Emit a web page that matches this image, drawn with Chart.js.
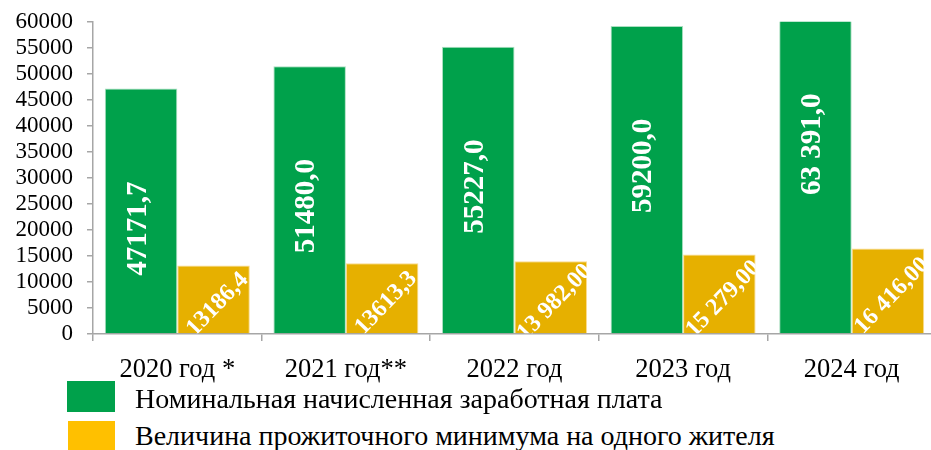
<!DOCTYPE html>
<html>
<head>
<meta charset="utf-8">
<script src="https://cdn.jsdelivr.net/npm/chart.js@4.4.1/dist/chart.umd.min.js"></script>
<style>
  html, body { margin: 0; padding: 0; background: #fff; overflow: hidden; width: 931px; height: 450px; }
  #wrap { position: absolute; left: 0; top: -6px; width: 936px; height: 400px; }
  .leg { position: absolute; left: 0; font-family: "Liberation Serif", "Times New Roman", serif; font-size: 28px; color: #000; white-space: nowrap; line-height: 1; }
  .sw { position: absolute; }
</style>
</head>
<body>
<div id="wrap"><canvas id="c"></canvas></div>
<div class="sw" id="sw0" style="left:67px;top:381px;width:48px;height:31px;"></div>
<div class="leg" id="lg0" style="left:135px;top:385px;"></div>
<div class="sw" id="sw1" style="left:68px;top:421px;width:47px;height:31px;"></div>
<div class="leg" id="lg1" style="left:135px;top:422px;"></div>
<script>
const categories = ["2020 год *", "2021 год**", "2022 год", "2023 год", "2024 год"];
const wageValues = [47171.7, 51480.0, 55227.0, 59200.0, 63391.0];
const wageLabels = ["47171,7", "51480,0", "55227,0", "59200,0", "63 391,0"];
const minimumValues = [13186.4, 13613.3, 13982.0, 15279.0, 16416.0];
const minimumLabels = ["13186,4", "13613,3", "13 982,00", "15 279,00", "16 416,00"];
const seriesNames = ["Номинальная начисленная заработная плата", "Величина прожиточного минимума на одного жителя"];
const yTicks = [0, 5000, 10000, 15000, 20000, 25000, 30000, 35000, 40000, 45000, 50000, 55000, 60000];

const GREEN = "#00A14B";
const YELLOW = "#E6B000";
const LEG_YELLOW = "#FFC000";
const FONT = '"Liberation Serif", "Times New Roman", serif';

document.getElementById("sw0").style.background = GREEN;
document.getElementById("sw1").style.background = LEG_YELLOW;
document.getElementById("lg0").textContent = seriesNames[0];
document.getElementById("lg1").textContent = seriesNames[1];

const labelPlugin = {
  id: "barLabels",
  afterDatasetsDraw(chart) {
    const ctx = chart.ctx;
    const area = chart.chartArea;
    const m0 = chart.getDatasetMeta(0);
    m0.data.forEach((bar, i) => {
      ctx.save();
      ctx.beginPath();
      ctx.rect(area.left, area.top, area.right - area.left, area.bottom - area.top);
      ctx.clip();
      ctx.translate(bar.x - 3, bar.y + 140);
      ctx.rotate(-Math.PI / 2);
      ctx.font = "bold 29px " + FONT;
      ctx.fillStyle = "#fff";
      ctx.textAlign = "center";
      ctx.textBaseline = "middle";
      ctx.fillText(wageLabels[i], 0, 0);
      ctx.restore();
    });
    const m1 = chart.getDatasetMeta(1);
    m1.data.forEach((bar, i) => {
      const w = bar.width;
      ctx.save();
      ctx.beginPath();
      ctx.rect(bar.x - w / 2, bar.y, w, bar.base - bar.y);
      ctx.clip();
      ctx.translate(bar.x + 4, (bar.y + bar.base) / 2 + 5);
      ctx.rotate(-46 * Math.PI / 180);
      ctx.font = "bold 24px " + FONT;
      ctx.fillStyle = "#fff";
      ctx.textAlign = "center";
      ctx.textBaseline = "middle";
      ctx.fillText(minimumLabels[i], 0, 0);
      ctx.restore();
    });
  }
};

new Chart(document.getElementById("c"), {
  type: "bar",
  data: {
    labels: categories,
    datasets: [
      { label: seriesNames[0], data: wageValues, backgroundColor: GREEN, borderColor: "rgba(160,220,185,0.9)", borderWidth: {top:1,left:1,right:1,bottom:0}, categoryPercentage: 0.86, barPercentage: 1.0 },
      { label: seriesNames[1], data: minimumValues, backgroundColor: YELLOW, borderColor: "rgba(250,215,130,0.9)", borderWidth: {top:1,left:1,right:1,bottom:0}, categoryPercentage: 0.86, barPercentage: 1.0 }
    ]
  },
  options: {
    responsive: true,
    maintainAspectRatio: false,
    animation: false,
    events: [],
    layout: { padding: { top: 16, right: 0, left: 0, bottom: 0 } },
    plugins: { legend: { display: false }, tooltip: { enabled: false } },
    scales: {
      x: {
        grid: { display: true, drawOnChartArea: false, drawTicks: true, tickLength: 7, color: "#A6A6A6", lineWidth: 1.5, offset: true },
        border: { display: true, color: "#A6A6A6", width: 1.5 },
        ticks: { color: "#000", font: { family: FONT, size: 26.5 }, padding: 13, maxRotation: 0, autoSkip: false },
        afterFit(scale) { scale.height = 60; }
      },
      y: {
        min: 0, max: 60000,
        afterBuildTicks(scale) { scale.ticks = yTicks.map(v => ({ value: v })); },
        grid: { display: true, drawOnChartArea: false, drawTicks: true, tickLength: 6, color: "#A6A6A6", lineWidth: 1.5 },
        border: { display: true, color: "#A6A6A6", width: 1.5 },
        ticks: { color: "#000", font: { family: FONT, size: 23 }, padding: 14, autoSkip: false, callback: v => String(v) },
        afterFit(scale) { scale.width = 93; }
      }
    }
  },
  plugins: [labelPlugin]
});
</script>
</body>
</html>
